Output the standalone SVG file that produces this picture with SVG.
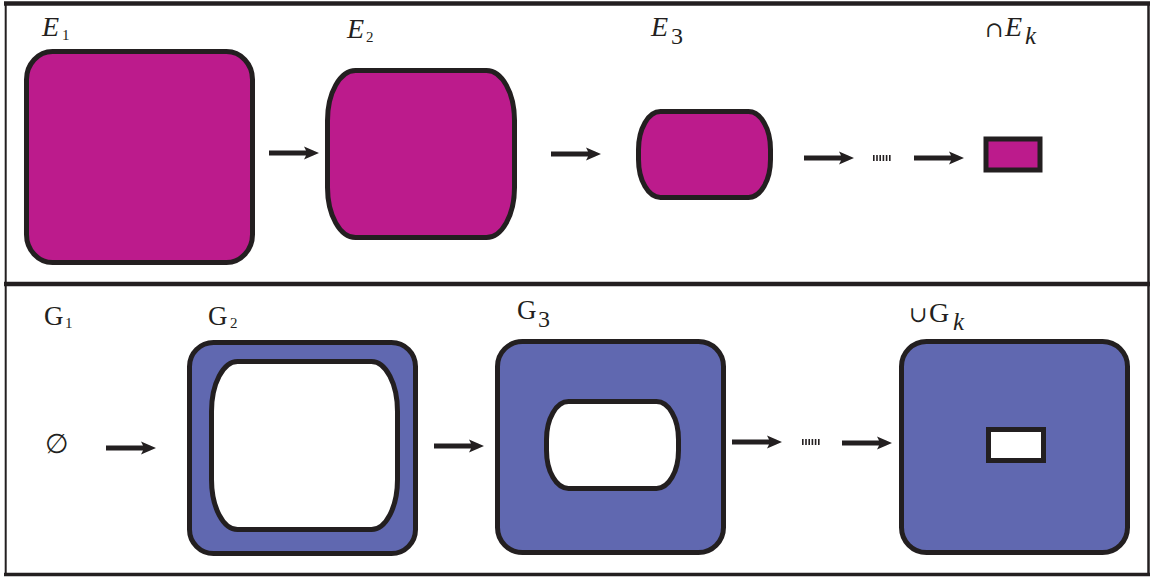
<svg xmlns="http://www.w3.org/2000/svg" xmlns:xlink="http://www.w3.org/1999/xlink" width="1151" height="577" viewBox="0 0 1151 577">
<defs>
<style>
.frame{stroke:#231f20;fill:none}
.mag{fill:#bc1b8c;stroke:#231f20;stroke-width:5}
.blue{fill:#6068b0;stroke:#231f20;stroke-width:5}
.hole{fill:#ffffff;stroke:#231f20;stroke-width:5}
.dots{stroke:#231f20;stroke-width:6;stroke-dasharray:1.6 1.6;fill:none}
.lab{font-family:"Liberation Serif","DejaVu Serif",serif;fill:#231f20}
.sym{font-family:"DejaVu Serif",serif;fill:#231f20}
.it{font-style:italic}
</style>
<path id="arrow" d="M0,-2.5 H37 L35,-6.5 L50,0 L35,6.5 L37,2.5 H0 Z" fill="#231f20"/>
</defs>
<rect width="1151" height="577" fill="#ffffff"/>
<g id="frame">
<line class="frame" x1="5.7" y1="2" x2="5.7" y2="576" stroke-width="2"/>
<line class="frame" x1="1148.5" y1="2" x2="1148.5" y2="576" stroke-width="2.5"/>
<line class="frame" x1="4" y1="3.5" x2="1150" y2="3.5" stroke-width="4.5"/>
<line class="frame" x1="4" y1="284" x2="1150" y2="284" stroke-width="4.5"/>
<line class="frame" x1="4" y1="574.5" x2="1150" y2="574.5" stroke-width="3.5"/>
</g>
<g id="E1">
<rect class="mag" x="26.5" y="51.5" width="226" height="211" rx="26" ry="28"/>
<text class="lab it" x="42" y="36" font-size="28">E</text>
<text class="lab" x="62" y="40" font-size="15">1</text>
</g>
<g id="E2">
<rect class="mag" x="327.5" y="70.5" width="187" height="167" rx="28" ry="50"/>
<text class="lab it" x="347" y="38" font-size="28">E</text>
<text class="lab" x="366" y="42" font-size="15">2</text>
</g>
<g id="E3">
<rect class="mag" x="638.5" y="111.5" width="132" height="86" rx="22" ry="38"/>
<text class="lab it" x="651" y="36" font-size="28">E</text>
<text class="lab" x="671" y="44" font-size="24">3</text>
</g>
<g id="Ek">
<rect class="mag" x="986" y="139" width="54" height="31" stroke-width="6"/>
<text class="sym" x="985" y="37" font-size="22">∩</text>
<text class="lab it" x="1005" y="36" font-size="28">E</text>
<text class="lab it" x="1025" y="44" font-size="25">k</text>
</g>
<g id="G1">
<text class="lab" x="44" y="325" font-size="27">G</text>
<text class="lab" x="65" y="328" font-size="15">1</text>
<text class="sym" x="57" y="453" font-size="27" text-anchor="middle">∅</text>
</g>
<g id="G2">
<rect class="blue" x="189.5" y="342.5" width="226" height="211" rx="24" ry="24"/>
<rect class="hole" x="211.5" y="361.5" width="186" height="168" rx="26" ry="50"/>
<text class="lab" x="208" y="325" font-size="27">G</text>
<text class="lab" x="230" y="328" font-size="15">2</text>
</g>
<g id="G3">
<rect class="blue" x="497.5" y="341.5" width="226" height="211" rx="25" ry="25"/>
<rect class="hole" x="546.5" y="401.5" width="132" height="87" rx="22" ry="38"/>
<text class="lab" x="517" y="319" font-size="27">G</text>
<text class="lab" x="538" y="327" font-size="24">3</text>
</g>
<g id="Gk">
<rect class="blue" x="901.5" y="341.5" width="226" height="211" rx="25" ry="25"/>
<rect class="hole" x="988.5" y="429.5" width="55" height="31"/>
<text class="sym" x="909" y="322" font-size="22">∪</text>
<text class="lab" x="929" y="322" font-size="28">G</text>
<text class="lab it" x="953" y="330" font-size="25">k</text>
</g>
<g id="connectors">
<use xlink:href="#arrow" x="269" y="153"/>
<use xlink:href="#arrow" x="551" y="154"/>
<use xlink:href="#arrow" x="804" y="158"/>
<line class="dots" x1="873" y1="158" x2="892" y2="158"/>
<use xlink:href="#arrow" x="914" y="158"/>
<use xlink:href="#arrow" x="106" y="448"/>
<use xlink:href="#arrow" x="434" y="446"/>
<use xlink:href="#arrow" x="732" y="442"/>
<line class="dots" x1="802" y1="442" x2="820" y2="442"/>
<use xlink:href="#arrow" x="842" y="443"/>
</g>
</svg>
